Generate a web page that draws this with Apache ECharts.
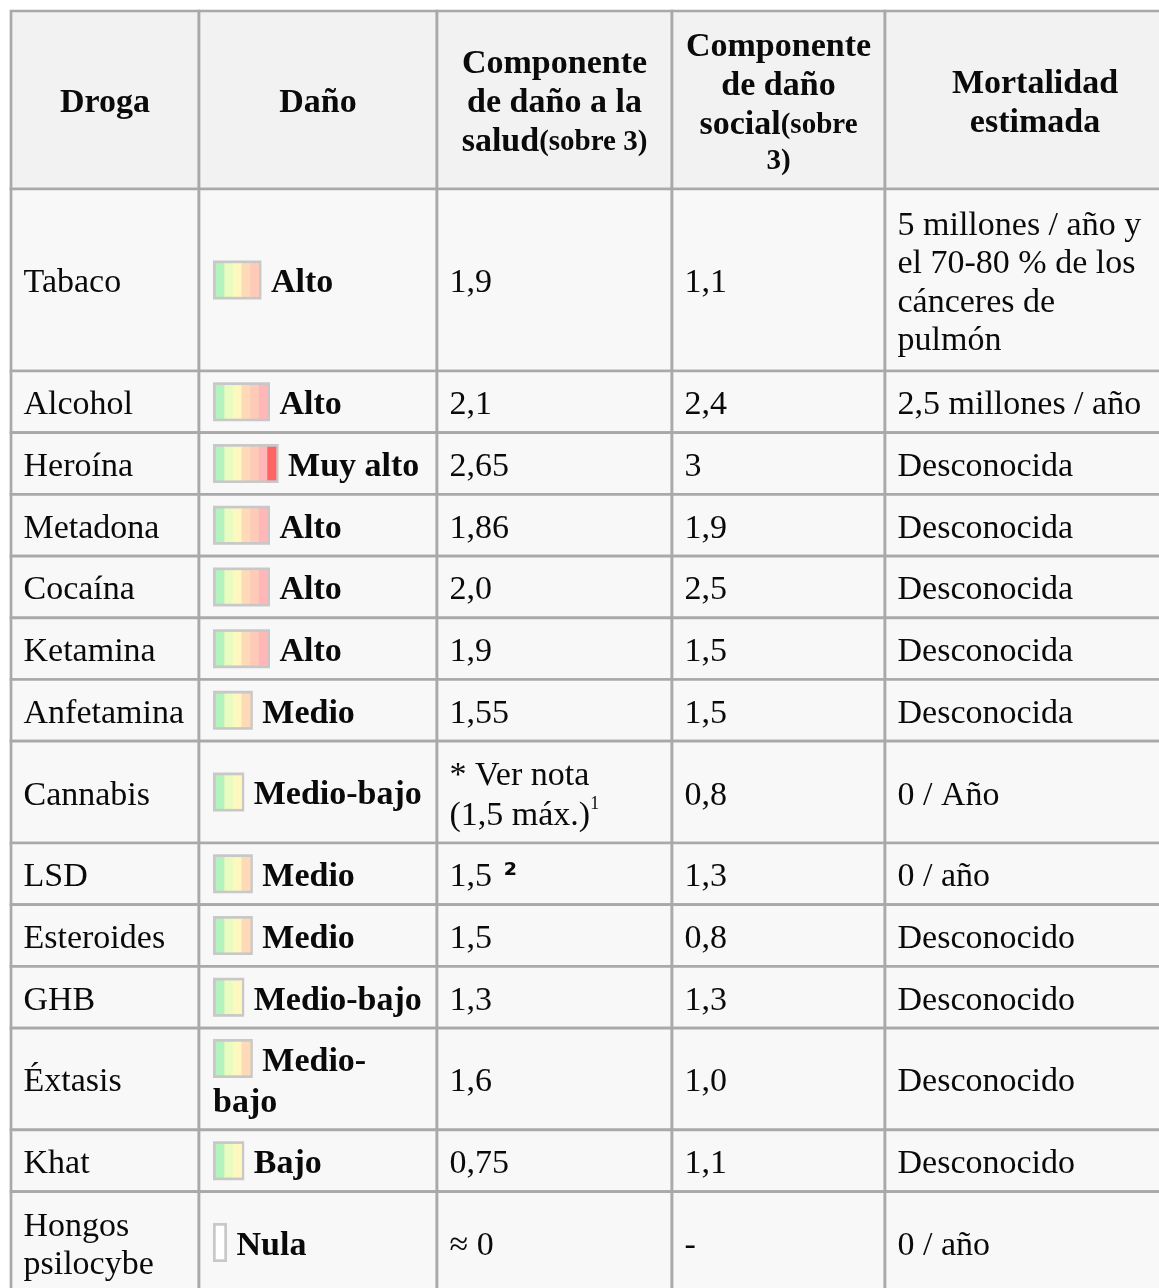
<!DOCTYPE html>
<html lang="es"><head><meta charset="utf-8">
<title>Daño de drogas</title>
<script src="https://cdn.jsdelivr.net/npm/echarts@6.0.0/dist/echarts.min.js"></script>
<style>html,body{margin:0;padding:0;background:#fff;overflow:hidden;width:1159px;height:1288px;}#chart{width:1220px;height:1340px;}</style>
</head><body><div id="chart"></div>
<script>
// ---------------- data ----------------
const headers = [
  'Droga',
  'Daño',
  'Componente\nde daño a la\nsalud{s|(sobre 3)}',
  'Componente\nde daño\nsocial{s|(sobre}\n{s|3)}',
  'Mortalidad\nestimada'
];
const drugs = ['Tabaco','Alcohol','Heroína','Metadona','Cocaína','Ketamina','Anfetamina','Cannabis','LSD','Esteroides','GHB','Éxtasis','Khat','Hongos\npsilocybe'];
const harmLabels = ['Alto','Alto','Muy alto','Alto','Alto','Alto','Medio','Medio-bajo','Medio','Medio','Medio-bajo','Medio-\nbajo','Bajo','Nula'];
const harmStripes = [5,6,7,6,6,6,4,3,4,4,3,4,3,0];
const healthScores = ['1,9','2,1','2,65','1,86','2,0','1,9','1,55','* Ver nota\n(1,5 máx.){sup|1}','1,5 {sq|²}','1,5','1,3','1,6','0,75','≈ 0'];
const socialScores = ['1,1','2,4','3','1,9','2,5','1,5','1,5','0,8','1,3','0,8','1,3','1,0','1,1','-'];
const mortality = ['5 millones / año y\nel 70-80 % de los\ncánceres de\npulmón','2,5 millones / año','Desconocida','Desconocida','Desconocida','Desconocida','Desconocida','0 / Año','0 / año','Desconocido','Desconocido','Desconocido','Desconocido','0 / año'];

// ---------------- layout & style ----------------
const FONT = "'Liberation Serif','Times New Roman',serif";
const FS = 34;
const TEXT_COLOR = '#0a0a0a';
const HEAD_BG = '#f2f2f2';
const BODY_BG = '#f8f8f8';
const BORDER = '#a9a9a9';
const BORDER_W = 2.7;
const colWidths = [188, 238, 235, 213, 300];
const ROW_BASE = 61.7, ROW_STEP = 40.1;
const HEAD_BASE = 60.7, HEAD_STEP = 39.1;
const TEXT_LINE = 38.5, BOX_LINE = 41, HEAD_LINE = 39;
const TEXT_DY = 3.5;
const PAD_X = 12.5;
const BOX_OFF = 14, BOX_H = 39, BOX_B = 2.7, STRIPE_W = 8.6, BOX_GAP = 9.5;
const stripeColors = ['#b3f3bd','#e8fcc0','#fff7c0','#ffdab8','#ffcbb8','#ffb7b7','#ff6464'];

const nLines = t => t.split('\n').length;
const columns = [drugs, harmLabels, healthScores, socialScores, mortality];
const rowHeights = [HEAD_BASE + (Math.max(...headers.map(nLines)) - 1) * HEAD_STEP];
drugs.forEach((d, i) => {
  const n = Math.max(...columns.map(col => nLines(col[i])));
  rowHeights.push(ROW_BASE + (n - 1) * ROW_STEP);
});
const colEdges = [0]; colWidths.forEach(w => colEdges.push(colEdges[colEdges.length - 1] + w));
const rowEdges = [0]; rowHeights.forEach(h => rowEdges.push(rowEdges[rowEdges.length - 1] + h));
const TABLE_W = colEdges[colEdges.length - 1];
const TABLE_H = rowEdges[rowEdges.length - 1];

const RICH = {
  s:   {fontFamily: FONT, fontSize: 29, fontWeight: 'bold', lineHeight: 34, fill: TEXT_COLOR},
  sup: {fontFamily: FONT, fontSize: 18, fontWeight: 'normal', lineHeight: 22, verticalAlign: 'top', fill: TEXT_COLOR},
  sq:  {fontFamily: "'DejaVu Sans',sans-serif", fontSize: 31, fontWeight: 'bold', lineHeight: TEXT_LINE, padding: [0, 0, 0, 3], fill: TEXT_COLOR}
};

function textEl(text, x, y, opt) {
  return {type: 'text', silent: true, style: Object.assign({
    text: text, x: x, y: y + TEXT_DY, fill: TEXT_COLOR, fontFamily: FONT, fontSize: FS,
    fontWeight: 'normal', align: 'left', verticalAlign: 'middle', lineHeight: TEXT_LINE, rich: RICH
  }, opt || {})};
}

const cells = [];
for (let r = 0; r <= drugs.length; r++) for (let c = 0; c < columns.length; c++) cells.push([c, r]);

function renderItem(params, api) {
  const c = api.value(0), r = api.value(1);
  const p0 = api.coord([colEdges[c], rowEdges[r]]);
  const p1 = api.coord([colEdges[c + 1], rowEdges[r + 1]]);
  const x0 = p0[0], y0 = p0[1], w = p1[0] - p0[0], h = p1[1] - p0[1];
  const cx = x0 + w / 2, cy = y0 + h / 2;
  const children = [{type: 'rect', shape: {x: x0, y: y0, width: w, height: h},
    style: {fill: r === 0 ? HEAD_BG : BODY_BG, stroke: BORDER, lineWidth: BORDER_W}}];
  if (r === 0) {
    children.push(textEl(headers[c], cx, cy, {fontWeight: 'bold', align: 'center', lineHeight: HEAD_LINE}));
  } else {
    const i = r - 1;
    if (c === 1) {
      const lines = harmLabels[i].split('\n');
      const n = harmStripes[i];
      const firstY = cy - (lines.length - 1) * BOX_LINE / 2;
      const innerW = Math.max(n, 1) * STRIPE_W;
      const bx = x0 + BOX_OFF, by = firstY - BOX_H / 2;
      children.push({type: 'rect', shape: {x: bx, y: by, width: innerW + 2 * BOX_B, height: BOX_H}, style: {fill: '#c8c8c8'}});
      if (n === 0) {
        children.push({type: 'rect', shape: {x: bx + BOX_B, y: by + BOX_B, width: innerW, height: BOX_H - 2 * BOX_B}, style: {fill: '#ffffff'}});
      }
      for (let k = 0; k < n; k++) {
        children.push({type: 'rect', shape: {x: bx + BOX_B + k * STRIPE_W, y: by + BOX_B, width: STRIPE_W + 0.4, height: BOX_H - 2 * BOX_B},
          style: {fill: stripeColors[k]}});
      }
      children.push(textEl(lines[0], bx + innerW + 2 * BOX_B + BOX_GAP, firstY, {fontWeight: 'bold'}));
      for (let j = 1; j < lines.length; j++) {
        children.push(textEl(lines[j], bx, firstY + j * BOX_LINE, {fontWeight: 'bold'}));
      }
    } else {
      const t = columns[c][i];
      children.push(textEl(t, x0 + PAD_X, cy, {lineHeight: t.indexOf('{sup|') >= 0 ? 40 : TEXT_LINE}));
    }
  }
  return {type: 'group', children: children};
}

const chart = echarts.init(document.getElementById('chart'), null, {renderer: 'canvas'});
chart.setOption({
  animation: false,
  backgroundColor: '#ffffff',
  grid: {left: 11, top: 11, width: TABLE_W, height: TABLE_H, containLabel: false},
  xAxis: {type: 'value', min: 0, max: TABLE_W, show: false},
  yAxis: {type: 'value', min: 0, max: TABLE_H, inverse: true, show: false},
  series: [{type: 'custom', coordinateSystem: 'cartesian2d', clip: false, renderItem: renderItem, data: cells}]
});
</script>
</body></html>
